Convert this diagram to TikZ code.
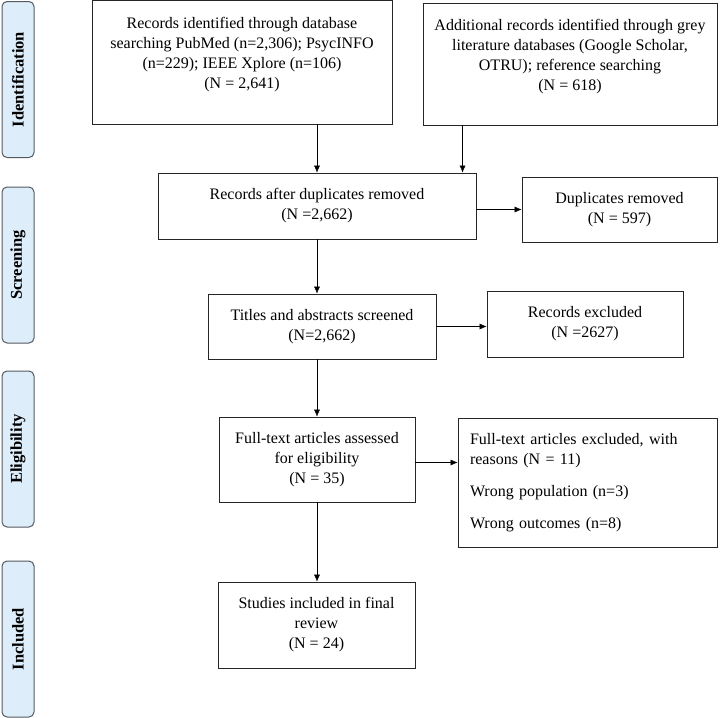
\documentclass[tikz,border=0pt]{standalone}
\usepackage{fontspec}
\setmainfont{Liberation Serif}
\usetikzlibrary{positioning, arrows.meta}

\definecolor{phasefill}{HTML}{DDEDFA}
\definecolor{phaseline}{HTML}{555A60}

\tikzset{
    box/.style={draw=black!85, line width=0.9pt, align=center, inner sep=0pt},
    phase/.style={draw=phaseline, fill=phasefill, line width=1pt, rounded corners=5pt,
                  rotate=90, minimum width=156pt, minimum height=32pt, inner sep=0pt,
                  font=\fontsize{16.5}{20}\selectfont\bfseries},
}

\begin{document}
\begin{tikzpicture}[x=1pt, y=-1pt, >={Latex[length=7pt, width=6pt]}, font=\fontsize{16}{20}\selectfont]
    \useasboundingbox (0,0) rectangle (721,718);

    \foreach \Y/\T/\N in { 79.5/Identification/id,
                           265/Screening/scr,
                           449/Eligibility/elig,
                           639/Included/incl
        } {
        \node[phase](phase\N) at (18,\Y) {\T};
        }

        \node[box, minimum width=300pt, minimum height=124pt](idRec) at (242,62)
            {Records identified through database\\searching PubMed (n=2,306); PsycINFO\\(n=229); IEEE Xplore (n=106)\\(N = 2,641)\\[-7pt]\strut};
        \node[box, minimum width=294pt, minimum height=122pt](addRec) at (570,64)
            {Additional records identified through grey\\literature databases (Google Scholar,\\OTRU); reference searching\\(N = 618)\\[-7pt]\strut};

        \node[box, minimum width=318pt, minimum height=66pt](afterDup) at (317,206)
            {Records after duplicates removed\\(N =2,662)};
        \node[box, minimum width=195pt, minimum height=65pt](dupRem) at (619.5,209.5)
            {Duplicates removed\\(N = 597)};

        \node[box, minimum width=228pt, minimum height=65pt](screened) at (322,326.5)
            {Titles and abstracts screened\\(N=2,662)};
        \node[box, minimum width=196pt, minimum height=66pt](recExcl) at (585,324)
            {Records excluded\\(N =2627)};

        \node[box, minimum width=196pt, minimum height=85pt](fullText) at (317,459.5)
            {Full-text articles assessed\\for eligibility\\(N = 35)};
        \node[box, align=left, text width=235pt, inner xsep=12pt, minimum height=129pt](ftExcl) at (587.5,482.5)
            {Full-text articles excluded, with\\reasons (N = 11)\\[12pt]Wrong population (n=3)\\[12pt]Wrong outcomes (n=8)};

        \node[box, minimum width=197pt, minimum height=86pt](included) at (316.5,625)
            {Studies included in final\\review\\(N = 24)};

        \draw[->] (afterDup.north |- idRec.south) -- (afterDup.north);
        \draw[->] ([xshift=40pt]addRec.south west) -- ([xshift=40pt]addRec.south west |- afterDup.north);
        \draw[->] (afterDup.east |- dupRem) -- (dupRem.west);
        \draw[->] (afterDup.south) -- (afterDup.south |- screened.north);
        \draw[->] (screened.east) -- (screened.east -| recExcl.west);
        \draw[->] (screened.south -| fullText) -- (fullText.north);
        \draw[->] ([yshift=-3pt]fullText.east) -- ([yshift=-3pt]fullText.east -| ftExcl.west);
        \draw[->] (fullText.south) -- (fullText.south |- included.north);
\end{tikzpicture}
\end{document}
